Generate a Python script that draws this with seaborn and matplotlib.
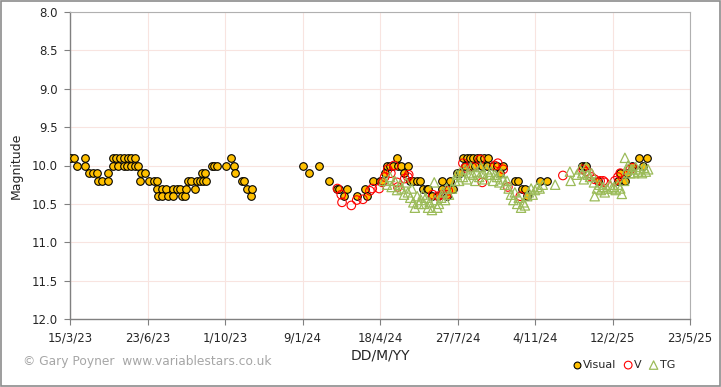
import matplotlib.pyplot as plt
import matplotlib.patches as patches
import pandas as pd
import seaborn as sns

# days since 15/3/23 and magnitudes
visual_days = [1, 5, 9, 19, 19, 25, 30, 35, 36, 41, 49, 49, 55, 55, 59, 62, 65, 70, 70, 74,
               75, 79, 79, 84, 84, 88, 90, 92, 97, 102, 108, 112, 112, 114, 119, 119, 124, 126,
               133, 133, 138, 142, 145, 148, 150, 152, 156, 161, 164, 168, 170, 172, 174, 175,
               183, 186, 190, 201, 208, 212, 213, 222, 225, 228, 234, 235,
               301, 308, 321, 334, 345, 347, 354, 357, 370, 381, 383, 391, 400, 403, 406, 409,
               413, 417, 422, 423, 427, 431, 436, 439, 443, 448, 452, 455, 461, 462, 467, 475,
               480, 480, 486, 488, 490, 494, 499, 503, 507, 510, 512, 516, 519, 520, 523, 525,
               529, 532, 534, 538, 539, 546, 551, 555, 559, 574, 578, 583, 587, 590, 606, 615,
               661, 665, 666, 681, 707, 710, 716, 719, 725, 734, 739, 745]
visual_mag = [9.9, 9.9, 10.0, 9.9, 10.0, 10.1, 10.1, 10.1, 10.2, 10.2, 10.1, 10.2, 9.9, 10.0,
              9.9, 10.0, 9.9, 9.9, 10.0, 10.0, 9.9, 9.9, 10.0, 9.9, 10.0, 10.0, 10.2, 10.1, 10.1,
              10.2, 10.2, 10.2, 10.3, 10.4, 10.3, 10.4, 10.3, 10.4, 10.3, 10.4, 10.3, 10.3, 10.4,
              10.4, 10.3, 10.2, 10.2, 10.3, 10.2, 10.2, 10.1, 10.2, 10.1, 10.2, 10.0, 10.0, 10.0,
              10.0, 9.9, 10.0, 10.1, 10.2, 10.2, 10.3, 10.4, 10.3,
              10.0, 10.1, 10.0, 10.2, 10.3, 10.3, 10.4, 10.3, 10.4, 10.3, 10.4, 10.2, 10.2, 10.2,
              10.1, 10.0, 10.0, 10.0, 9.9, 10.0, 10.0, 10.1, 10.0, 10.2, 10.2, 10.2, 10.2, 10.3,
              10.3, 10.3, 10.4, 10.4, 10.2, 10.3, 10.4, 10.3, 10.2, 10.3, 10.1, 10.1, 9.9, 10.0,
              9.9, 9.9, 10.0, 9.9, 10.0, 9.9, 9.9, 10.0, 9.9, 10.0, 9.9, 10.0, 10.0, 10.1, 10.0,
              10.2, 10.2, 10.3, 10.3, 10.4, 10.2, 10.2, 10.0, 10.0, 10.0, 10.2, 10.2, 10.1, 10.2,
              10.1, 10.0, 9.9, 10.0, 9.9]

v_days = [345, 350, 351, 363, 370, 378, 387, 390, 399, 403, 406, 410, 414, 418, 422, 423,
          432, 436, 437, 468, 475, 481, 486, 488, 507, 510, 519, 532, 529, 548, 552, 559,
          565, 581, 636, 662, 666, 670, 673, 677, 684, 688, 690, 703, 707, 710, 723, 726]
v_mag = [10.3, 10.38, 10.48, 10.52, 10.45, 10.44, 10.33, 10.3, 10.3, 10.22, 10.15, 10.05,
         10.1, 10.0, 10.22, 10.28, 10.17, 10.15, 10.12, 10.38, 10.4, 10.38, 10.38, 10.33,
         9.97, 10.03, 10.02, 10.22, 9.92, 10.0, 9.97, 10.05, 10.28, 10.4, 10.13, 10.05, 10.08,
         10.1, 10.15, 10.18, 10.2, 10.2, 10.22, 10.2, 10.15, 10.1, 10.05, 10.03]

tg_days = [405, 409, 413, 415, 419, 422, 426, 428, 431, 434, 436, 439, 441, 443, 445, 448,
           450, 453, 455, 457, 459, 462, 464, 467, 470, 471, 474, 476, 479, 481, 484, 486,
           489, 493, 497, 499, 502, 504, 507, 510, 512, 515, 517, 520, 523, 525, 528, 530,
           533, 535, 538, 541, 543, 546, 548, 551, 554, 556, 559, 561, 564, 566, 569, 572,
           574, 577, 579, 582, 585, 587, 590, 592, 595, 597, 600, 603, 606, 610, 626, 645,
           646, 654, 658, 661, 663, 666, 668, 671, 673, 676, 677, 680, 683, 685, 688, 690,
           693, 697, 699, 702, 704, 707, 710, 712, 715, 716, 719, 720, 723, 725, 728, 730,
           733, 735, 738, 741, 743, 746]
tg_mag = [10.2, 10.25, 10.15, 10.28, 10.2, 10.32, 10.25, 10.3, 10.38, 10.22, 10.35, 10.42,
          10.3, 10.48, 10.55, 10.4, 10.5, 10.45, 10.38, 10.5, 10.42, 10.55, 10.48, 10.58,
          10.22, 10.45, 10.55, 10.5, 10.42, 10.35, 10.45, 10.3, 10.38, 10.3, 10.2, 10.12,
          10.2, 10.08, 10.15, 10.05, 10.18, 10.1, 10.02, 10.12, 10.2, 10.08, 10.15, 10.02,
          10.1, 10.18, 10.05, 10.12, 10.08, 10.2, 10.12, 10.15, 10.22, 10.1, 10.18, 10.25,
          10.2, 10.3, 10.38, 10.45, 10.35, 10.5, 10.42, 10.55, 10.48, 10.52, 10.4, 10.35,
          10.3, 10.38, 10.32, 10.28, 10.3, 10.25, 10.25, 10.08, 10.2, 10.12, 10.05, 10.1,
          10.18, 10.02, 10.12, 10.15, 10.1, 10.22, 10.4, 10.3, 10.25, 10.32, 10.28, 10.35,
          10.3, 10.25, 10.3, 10.28, 10.32, 10.25, 10.3, 10.37, 10.2, 9.9, 10.05, 10.0, 10.1,
          10.05, 10.1, 10.02, 10.08, 10.05, 10.1, 10.03, 10.08, 10.05]

start = pd.Timestamp("2023-03-15")
tick_dates = [start + pd.Timedelta(days=100 * i) for i in range(9)]
y_ticks = [8.0, 8.5, 9.0, 9.5, 10.0, 10.5, 11.0, 11.5, 12.0]


def to_frame(days, mags):
    return pd.DataFrame({"date": [start + pd.Timedelta(days=d) for d in days], "mag": mags})


sns.set_style("white")
plt.rcParams["font.family"] = ["DejaVu Sans"]

fig = plt.figure(figsize=(7.21, 3.87), dpi=100)
ax = fig.add_axes([70 / 721, 1 - 319 / 387, 620 / 721, 307 / 387])

sns.scatterplot(data=to_frame(visual_days, visual_mag), x="date", y="mag", ax=ax,
                marker="o", s=30, color="#FFC000", edgecolor="black", linewidth=0.8,
                label="Visual", zorder=3)
sns.scatterplot(data=to_frame(v_days, v_mag), x="date", y="mag", ax=ax,
                marker="o", s=38, facecolor="none", edgecolor="#FF0000", linewidth=0.8,
                label="V", zorder=4)
sns.scatterplot(data=to_frame(tg_days, tg_mag), x="date", y="mag", ax=ax,
                marker="^", s=45, facecolor="none", edgecolor="#9BBB59", linewidth=0.9,
                label="TG", zorder=5)

ax.set_xlim(tick_dates[0], tick_dates[-1])
ax.set_ylim(12.0, 8.0)
ax.set_xticks(tick_dates)
ax.set_xticklabels([f"{d.day}/{d.month}/{d.strftime('%y')}" for d in tick_dates])
ax.set_yticks(y_ticks)
ax.set_yticklabels([f"{v:.1f}" for v in y_ticks])
ax.grid(True, color="#F8E4E0", linewidth=0.8)
ax.set_axisbelow(True)

for side in ["left", "bottom"]:
    ax.spines[side].set_color("#808080")
    ax.spines[side].set_linewidth(1.0)
for side in ["top", "right"]:
    ax.spines[side].set_color("#B0B0B0")
    ax.spines[side].set_linewidth(0.8)
ax.tick_params(axis="both", direction="out", length=4, width=0.8, color="#808080",
               labelsize=8.5, pad=5, bottom=True, left=True)

ax.set_xlabel("DD/M/YY", fontsize=10, labelpad=3)
ax.set_ylabel("Magnitude", fontsize=9, labelpad=6)

ax.legend_.remove()
fig.legend(loc="center", bbox_to_anchor=(623 / 721, 1 - 365 / 387), ncol=3,
           frameon=False, fontsize=8, handletextpad=0.0, columnspacing=0.5,
           borderaxespad=0, handlelength=1.1, markerscale=0.9)

fig.text(23 / 721, 1 - 362 / 387, "\u00a9 Gary Poyner  www.variablestars.co.uk",
         fontsize=8.8, color="#A6A6A6", va="center", ha="left")

fig.patches.append(patches.Rectangle((0.001, 0.002), 0.997, 0.995, transform=fig.transFigure,
                                     fill=False, edgecolor="#8C8C8C", linewidth=1.2))

fig.savefig("out.png", dpi=100)
